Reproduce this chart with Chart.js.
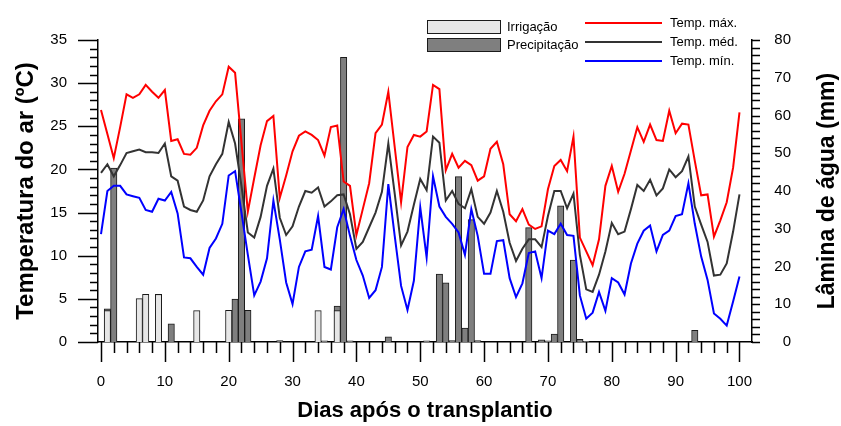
<!DOCTYPE html>
<html lang="pt-BR">
<head>
<meta charset="utf-8">
<title>Temperatura do ar e lâmina de água</title>
<script src="https://cdn.jsdelivr.net/npm/chart.js@4.4.1/dist/chart.umd.min.js"></script>
<style>
  html, body { margin: 0; padding: 0; background: #fff; }
</style>
</head>
<body>
<canvas id="grafico" width="841" height="426"></canvas>
<script>
// dias após o transplantio
const dias = Array.from({ length: 101 }, (_, i) => i);

// temperaturas diárias (ºC)
const tempMax = [
  26.9, 24.1, 21.3, 24.9, 28.7, 28.3, 28.7, 29.8, 29.0, 28.3,
  29.2, 23.3, 23.5, 21.8, 21.7, 22.5, 25.1, 26.8, 27.9, 28.7,
  31.9, 31.2, 23.1, 15.1, 19.0, 22.8, 25.6, 26.2, 16.7, 19.3,
  22.1, 23.9, 24.4, 24.0, 23.4, 21.6, 24.9, 25.1, 18.6, 18.1,
  12.4, 15.4, 18.4, 24.2, 25.2, 29.0, 22.6, 16.2, 22.6, 24.0,
  23.8, 24.4, 29.8, 29.3, 19.9, 21.8, 20.2, 21.0, 20.5, 18.7,
  19.2, 22.4, 23.2, 20.6, 14.8, 14.0, 15.4, 13.6, 13.1, 13.4,
  17.7, 20.4, 21.1, 19.8, 23.8, 12.1, 10.5, 8.9, 11.9, 18.1,
  20.4, 17.4, 19.5, 22.2, 24.9, 23.2, 25.2, 23.4, 23.3, 26.8,
  24.2, 25.3, 25.2, 21.0, 17.0, 17.1, 12.2, 14.1, 16.2, 20.2,
  26.6
];
const tempMed = [
  19.6, 20.6, 19.2, 20.5, 21.9, 22.1, 22.3, 22.0, 22.0, 21.9,
  23.0, 19.2, 18.7, 15.7, 15.3, 15.1, 16.4, 19.2, 20.6, 21.8,
  25.5, 23.0, 18.1, 12.7, 12.1, 14.5, 18.1, 20.1, 14.4, 12.4,
  13.4, 15.7, 17.5, 17.3, 17.9, 15.7, 16.3, 17.0, 17.1, 14.8,
  10.8, 11.6, 13.3, 15.0, 17.4, 23.0, 17.2, 11.2, 12.8, 15.9,
  18.9, 17.6, 23.8, 23.1, 16.4, 17.5, 16.0, 15.5, 17.7, 14.5,
  13.7, 15.0, 17.5, 15.1, 11.5, 9.4, 10.8, 11.9, 11.9, 11.0,
  14.6, 17.5, 17.5, 15.5, 17.2, 10.1, 6.1, 5.8, 7.8, 10.5,
  13.8, 12.5, 12.8, 15.4, 18.2, 17.5, 18.8, 17.0, 17.8, 20.0,
  19.1, 19.8, 21.5, 15.7, 13.6, 11.6, 7.7, 7.8, 9.1, 12.8,
  17.1
];
const tempMin = [
  12.5, 17.5, 18.1, 18.1, 17.1, 16.9, 16.7, 15.3, 15.1, 16.6,
  16.4, 17.4, 14.9, 9.8, 9.7, 8.7, 7.8, 10.9, 12.0, 13.7,
  19.3, 19.8, 15.0, 10.1, 5.4, 7.0, 9.7, 16.4, 11.9, 6.9,
  4.4, 8.7, 10.5, 10.7, 14.6, 8.7, 8.4, 13.3, 15.4, 12.3,
  9.5, 7.7, 5.1, 6.0, 8.7, 18.3, 12.3, 6.5, 3.7, 7.1,
  15.6, 9.8, 19.2, 15.7, 14.5, 13.7, 12.7, 10.1, 15.4, 12.3,
  7.9, 7.9, 11.7, 11.8, 7.4, 5.2, 6.8, 10.3, 10.5, 7.4,
  12.9, 12.5, 13.7, 12.4, 12.3, 5.4, 2.7, 3.4, 5.8, 3.6,
  7.4, 6.9, 5.5, 9.1, 11.4, 12.9, 13.5, 10.5, 12.4, 12.9,
  14.6, 14.8, 18.4, 13.7, 9.9, 7.2, 3.3, 2.7, 1.9, 4.7,
  7.6
];

// lâminas de água (mm)
const diasIrrigacao = [1, 6, 7, 9, 15, 20, 34, 37];
const irrigacao = [8.3, 11.5, 12.6, 12.6, 8.3, 8.4, 8.3, 8.3];

const diasChuva = [1, 2, 11, 21, 22, 23, 28, 35, 37, 38, 39, 45, 51, 53, 54,
  55, 56, 57, 58, 59, 67, 69, 70, 71, 72, 74, 75, 76, 93];
const precipitacao = [8.8, 46.1, 4.8, 11.4, 59.1, 8.4, 0.4, 0.3, 9.5, 75.4, 0.3,
  1.4, 0.3, 18.0, 15.7, 0.4, 43.8, 3.7, 32.4, 0.4, 30.3, 0.6, 0.3, 2.1, 36.1,
  21.7, 0.7, 0.2, 3.1];

// marcas dos eixos
const ticksDias = [0, 10, 20, 30, 40, 50, 60, 70, 80, 90, 100];
const ticksTemp = [0, 5, 10, 15, 20, 25, 30, 35];
const ticksAgua = [0, 10, 20, 30, 40, 50, 60, 70, 80];

const fonte = "'Liberation Sans', Arial, sans-serif";

const pares = (xs, ys) => xs.map((x, i) => ({ x: x, y: ys[i] }));

function fixarTicks(valores) {
  return function (scale) {
    scale.ticks = valores.map(v => ({ value: v }));
  };
}

// tracinhos dos eixos, legenda e título do eixo da direita
const extras = {
  id: 'extras',
  afterDraw(chart) {
    const { ctx, chartArea: a, scales } = chart;
    const x = scales.x, y = scales.y, y2 = scales.y2;
    ctx.save();
    ctx.strokeStyle = '#000';
    ctx.lineWidth = 1.5;
    ctx.beginPath();
    for (let d = 0; d <= 100; d += 2) {
      const px = Math.round(x.getPixelForValue(d)) + 0.5;
      const len = d % 10 === 0 ? 20 : 11;
      ctx.moveTo(px, a.bottom);
      ctx.lineTo(px, a.bottom + len);
    }
    for (let t = 0; t <= 35; t += 1) {
      const py = Math.round(y.getPixelForValue(t)) + 0.5;
      const len = t % 5 === 0 ? 20 : 8;
      ctx.moveTo(a.left, py);
      ctx.lineTo(a.left - len, py);
    }
    for (let m = 0; m <= 80; m += 2) {
      const py = Math.round(y2.getPixelForValue(m)) + 0.5;
      ctx.moveTo(a.right, py);
      ctx.lineTo(a.right + 8, py);
    }
    ctx.stroke();

    // legenda
    const ds = chart.data.datasets;
    ctx.font = '13px ' + fonte;
    ctx.textBaseline = 'middle';
    ctx.textAlign = 'left';
    ctx.lineWidth = 1;
    [[ds[3], 20], [ds[4], 38]].forEach(([d, top]) => {
      ctx.fillStyle = d.backgroundColor;
      ctx.fillRect(427.5, top + 0.5, 73, 13);
      ctx.strokeStyle = d.borderColor;
      ctx.strokeRect(427.5, top + 0.5, 73, 13);
      ctx.fillStyle = '#000';
      ctx.fillText(d.label, 507, top + 7);
    });
    [[ds[0], 23], [ds[1], 42], [ds[2], 61]].forEach(([d, yy]) => {
      ctx.strokeStyle = d.borderColor;
      ctx.lineWidth = 2;
      ctx.beginPath();
      ctx.moveTo(585, yy);
      ctx.lineTo(662, yy);
      ctx.stroke();
      ctx.fillStyle = '#000';
      ctx.fillText(d.label, 670, yy);
    });

    // título do eixo secundário, lido de baixo para cima
    ctx.translate(828, (a.top + a.bottom) / 2);
    ctx.rotate(-Math.PI / 2);
    ctx.font = 'bold 23px ' + fonte;
    ctx.textAlign = 'center';
    ctx.fillStyle = '#000';
    ctx.fillText('Lâmina de água (mm)', 0, 0);
    ctx.restore();
  }
};

new Chart(document.getElementById('grafico'), {
  data: {
    datasets: [
      {
        type: 'line', label: 'Temp. máx.', data: pares(dias, tempMax),
        borderColor: '#ff0000', borderWidth: 2, pointRadius: 0, yAxisID: 'y', order: 0
      },
      {
        type: 'line', label: 'Temp. méd.', data: pares(dias, tempMed),
        borderColor: '#333333', borderWidth: 2, pointRadius: 0, yAxisID: 'y', order: 0
      },
      {
        type: 'line', label: 'Temp. mín.', data: pares(dias, tempMin),
        borderColor: '#0000ff', borderWidth: 2, pointRadius: 0, yAxisID: 'y', order: 0
      },
      {
        type: 'bar', label: 'Irrigação', data: pares(diasIrrigacao, irrigacao),
        backgroundColor: '#e6e6e6', borderColor: '#1a1a1a', borderWidth: 1,
        yAxisID: 'y2', order: 1, grouped: false, barPercentage: 1, categoryPercentage: 1
      },
      {
        type: 'bar', label: 'Precipitação', data: pares(diasChuva, precipitacao),
        backgroundColor: '#7f7f7f', borderColor: '#1a1a1a', borderWidth: 1,
        yAxisID: 'y2', order: 2, grouped: false, barPercentage: 1, categoryPercentage: 1
      }
    ]
  },
  options: {
    responsive: false,
    animation: false,
    devicePixelRatio: 1,
    layout: { padding: { top: 18, left: 0, right: 50, bottom: 0 } },
    plugins: { legend: { display: false }, tooltip: { enabled: false } },
    scales: {
      x: {
        type: 'linear', position: 'bottom', min: -0.47, max: 101.96, offset: false,
        afterBuildTicks: fixarTicks(ticksDias),
        afterFit: s => { s.height = 84; },
        grid: { display: false, drawTicks: false },
        border: { display: true, color: '#000', width: 1.5 },
        ticks: { padding: 31, color: '#000', font: { family: fonte, size: 15 } },
        title: {
          display: true, text: 'Dias após o transplantio', color: '#000',
          font: { family: fonte, size: 22, weight: 'bold' }, padding: { top: 0, bottom: 2 }
        }
      },
      y: {
        type: 'linear', position: 'left', min: 0, max: 35,
        afterBuildTicks: fixarTicks(ticksTemp),
        afterFit: s => { s.width = 98; },
        grid: { display: false, drawTicks: false },
        border: { display: true, color: '#000', width: 1.5 },
        ticks: { padding: 31, color: '#000', font: { family: fonte, size: 15 } },
        title: {
          display: true, text: 'Temperatura do ar (ºC)', color: '#000',
          font: { family: fonte, size: 24, weight: 'bold' }, padding: { top: 11.6, bottom: 0 }
        }
      },
      y2: {
        type: 'linear', position: 'right', min: 0, max: 80,
        afterBuildTicks: fixarTicks(ticksAgua),
        afterFit: s => { s.width = 39; },
        grid: { display: false, drawTicks: false },
        border: { display: true, color: '#000', width: 1.5 },
        ticks: { padding: 22, crossAlign: 'far', color: '#000', font: { family: fonte, size: 15 } }
      }
    }
  },
  plugins: [extras]
});
</script>
</body>
</html>
